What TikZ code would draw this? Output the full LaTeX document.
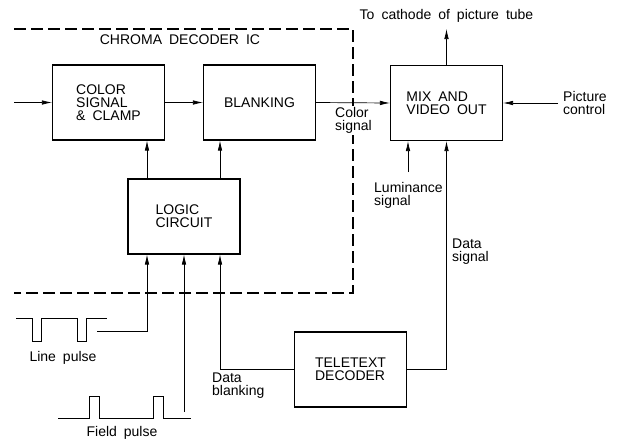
\documentclass[tikz,border=0pt]{standalone}
\usepackage{fontspec}
\setmainfont[WordSpace=1.8]{Liberation Sans}
\usetikzlibrary{arrows.meta, positioning, calc}

\tikzset{
	block/.style={draw, line width=1.1pt, minimum width=112pt, minimum height=75pt, align=left, inner sep=0pt},
	wire/.style={line width=0.7pt},
	arr/.style={wire, -{Latex[length=10pt,width=4.5pt]}},
	lbl/.style={align=left, inner sep=0pt},
	chipline/.style={line width=1.2pt, dash pattern=on 12pt off 5pt}
}

\begin{document}
\begin{tikzpicture}[x=1pt, y=-1pt, font=\fontsize{14}{13}\selectfont]
		\useasboundingbox (0,0) rectangle (618,440);
		\draw[chipline] (14,29) -- (353,29) -- (353,293) -- (14,293);
		\node (chip) at (180,40) {CHROMA DECODER IC};

		\node[block] (colsig) at (108.5,102.5) {COLOR\\SIGNAL\\\& CLAMP};
		\node[block] (blank) at (259.5,102.5) {BLANKING};
		\node[block] (mix) at (446.5,103) {MIX AND\\VIDEO OUT};
		\node[block] (logic) at (184,216.5) {LOGIC\\CIRCUIT};
		\node[block] (tele) at (350.5,369.5) {TELETEXT\\DECODER};

		\coordinate (inp) at (14,102.5);
		\coordinate (cath) at (446.5,29);
		\coordinate (pic) at (558,103);
		\coordinate (lum) at (408,172);
		\coordinate (lp) at (97,331);
		\coordinate (fp) at (184,412);

		\draw[arr] (inp) -- (colsig.west);
		\draw[arr] (colsig.east) -- (blank.west);
		\draw[arr] (blank.east) -- (mix.west);
		\draw[arr] (mix.north) -- (cath);
		\draw[arr] (pic) -- (mix.east);
		\draw[arr] (lum) -- (lum |- mix.south);
		\draw[arr] (tele.east) -| (mix.south);
		\draw[arr] ([xshift=-37pt]logic.north) -- ([xshift=-37pt]logic.north |- colsig.south);
		\draw[arr] ([xshift=36pt]logic.north) -- ([xshift=36pt]logic.north |- blank.south);
		\draw[arr] (lp) -| ([xshift=-37pt]logic.south);
		\draw[arr] (fp) -- (fp |- logic.south);
		\draw[arr] (tele.west) -| ([xshift=36pt]logic.south);

		\draw[wire] (16,318) -- (32,318) -- (32,341) -- (41,341) -- (41,318) -- (77,318) -- (77,341) -- (86,341) -- (86,318) -- (107,318);
		\draw[wire] (58,418) -- (89,418) -- (89,396) -- (99,396) -- (99,418) -- (153,418) -- (153,396) -- (163,396) -- (163,418) -- (191,418);

		\node[above=6pt of cath, inner sep=0pt] (cathlbl) {To cathode of picture tube};
		\node[lbl, anchor=west] (piclbl) at (563,103) {Picture\\control};
		\node[lbl, anchor=north west, fill=white, inner sep=1.5pt] (collbl) at (333.5,105.5) {Color\\signal};
		\node[lbl, anchor=north west] (lumlbl) at (374,182) {Luminance\\signal};
		\node[lbl, anchor=north west] (datlbl) at (452,239) {Data\\signal};
		\node[lbl, anchor=north west] (blklbl) at (212,373) {Data\\blanking};
		\node[lbl] (linelbl) at (63,358) {Line pulse};
		\node[lbl] (fieldlbl) at (122,433) {Field pulse};
	\end{tikzpicture}
\end{document}
